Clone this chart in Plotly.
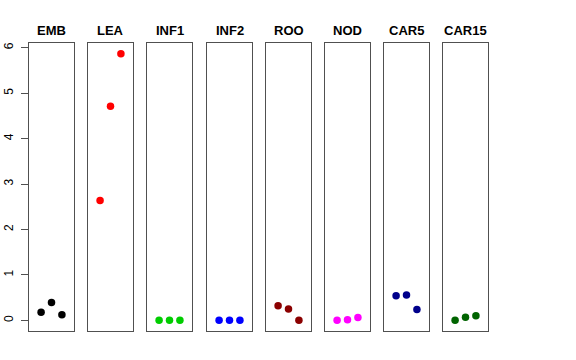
import plotly.graph_objects as go

W, H = 576, 360

tissues = ["EMB", "LEA", "INF1", "INF2", "ROO", "NOD", "CAR5", "CAR15"]
positions = [1, 2, 3]
emb = [0.18, 0.39, 0.12]
lea = [2.64, 4.71, 5.87]
inf1 = [0.0, 0.0, 0.0]
inf2 = [0.0, 0.0, 0.0]
roo = [0.32, 0.25, 0.0]
nod = [0.0, 0.01, 0.06]
car5 = [0.54, 0.56, 0.24]
car15 = [0.0, 0.07, 0.1]
series = [emb, lea, inf1, inf2, roo, nod, car5, car15]
colors = ["#000000", "#FF0000", "#00CD00", "#0000FF", "#8B0000", "#FF00FF", "#00008B", "#006400"]
y_ticks = [0, 1, 2, 3, 4, 5, 6]

panel_left = [29, 88, 147, 207, 266, 325, 384, 443]
panel_w = 45
top_px, bot_px = 43, 331


def fx(px):
    return px / W


def fy(py):
    return 1 - py / H


fig = go.Figure()
layout = dict(
    width=W, height=H, margin=dict(l=0, r=0, t=0, b=0, autoexpand=False),
    paper_bgcolor="white", plot_bgcolor="white", showlegend=False,
    font=dict(family="Liberation Sans, Arial, sans-serif", color="black"),
)
annotations = []
for i, (name, vals, col) in enumerate(zip(tissues, series, colors)):
    xa = "x" if i == 0 else f"x{i+1}"
    ya = "y" if i == 0 else f"y{i+1}"
    fig.add_trace(go.Scatter(x=positions, y=vals, mode="markers", xaxis=xa, yaxis=ya,
                             marker=dict(color=col, size=7.5, line=dict(width=0))))
    x0 = fx(panel_left[i])
    x1 = fx(panel_left[i] + panel_w)
    xkey = "xaxis" if i == 0 else f"xaxis{i+1}"
    ykey = "yaxis" if i == 0 else f"yaxis{i+1}"
    layout[xkey] = dict(domain=[x0, x1], range=[-0.16, 4.16], anchor=ya, automargin=False,
                        showgrid=False, zeroline=False, showticklabels=False, ticks="",
                        showline=True, mirror=True, linecolor="#505050", linewidth=1)
    ydict = dict(domain=[fy(bot_px), fy(top_px)], range=[-0.235, 6.104], anchor=xa,
                 automargin=False,
                 showgrid=False, zeroline=False, showline=True, mirror=True,
                 linecolor="#505050", linewidth=1)
    if i == 0:
        ydict.update(tickvals=y_ticks, ticktext=[str(v) for v in y_ticks], ticks="outside",
                     ticklen=7, tickcolor="#505050", tickangle=-90, ticklabelstandoff=3,
                     tickfont=dict(size=12, color="black"))
    else:
        ydict.update(showticklabels=False, ticks="")
    layout[ykey] = ydict
    annotations.append(dict(text=f"<b>{name}</b>", x=(x0 + x1) / 2, y=fy(30),
                            xref="paper", yref="paper", showarrow=False,
                            xanchor="center", yanchor="middle",
                            font=dict(size=13, color="black")))
layout["annotations"] = annotations
fig.update_layout(**layout)
fig.write_html("out.html", config={"displayModeBar": False},
               post_script="document.body.style.margin='0';")
